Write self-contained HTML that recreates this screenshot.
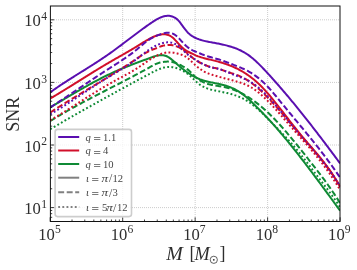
<!DOCTYPE html>
<html><head><meta charset="utf-8"><title>SNR</title><style>html,body{margin:0;padding:0;background:#fff;}body{width:357px;height:270px;overflow:hidden;position:relative;font-family:"Liberation Serif",serif;}</style></head><body>
<svg width="357" height="270" viewBox="0 0 357 270" style="position:absolute;left:0;top:0">
<rect x="0" y="0" width="357" height="270" fill="#fff"/>
<g stroke="#a4a4a4" stroke-width="0.75" stroke-dasharray="0.75 1.25" fill="none"><line x1="122.68" y1="6.0" x2="122.68" y2="221.5"/><line x1="195.15" y1="6.0" x2="195.15" y2="221.5"/><line x1="267.62" y1="6.0" x2="267.62" y2="221.5"/><line x1="50.2" y1="207.60" x2="340.1" y2="207.60"/><line x1="50.2" y1="145.00" x2="340.1" y2="145.00"/><line x1="50.2" y1="82.40" x2="340.1" y2="82.40"/><line x1="50.2" y1="19.80" x2="340.1" y2="19.80"/></g>
<defs><filter id="gf" x="-5%" y="-5%" width="110%" height="110%" color-interpolation-filters="sRGB"><feColorMatrix type="saturate" values="1"/></filter></defs>
<defs><clipPath id="c"><rect x="50.2" y="6.0" width="289.90000000000003" height="215.5"/></clipPath></defs>
<g fill="none" stroke-width="2.0" clip-path="url(#c)">
<path d="M50.2 92.36 L51.2 91.64 L52.2 90.93 L53.2 90.22 L54.2 89.52 L55.2 88.83 L56.2 88.14 L57.2 87.46 L58.2 86.78 L59.2 86.10 L60.2 85.43 L61.2 84.77 L62.2 84.10 L63.2 83.44 L64.2 82.79 L65.2 82.14 L66.2 81.49 L67.2 80.85 L68.2 80.20 L69.2 79.56 L70.2 78.93 L71.2 78.29 L72.2 77.66 L73.2 77.03 L74.2 76.40 L75.2 75.77 L76.2 75.14 L77.2 74.52 L78.2 73.89 L79.2 73.27 L80.2 72.65 L81.2 72.02 L82.2 71.40 L83.2 70.78 L84.2 70.15 L85.2 69.53 L86.2 68.90 L87.2 68.27 L88.2 67.65 L89.2 67.02 L90.2 66.39 L91.2 65.75 L92.2 65.12 L93.2 64.48 L94.2 63.84 L95.2 63.20 L96.2 62.56 L97.2 61.91 L98.2 61.26 L99.2 60.61 L100.2 59.95 L101.2 59.29 L102.2 58.62 L103.2 57.95 L104.2 57.28 L105.2 56.60 L106.2 55.92 L107.2 55.23 L108.2 54.54 L109.2 53.84 L110.2 53.13 L111.2 52.42 L112.2 51.71 L113.2 50.99 L114.2 50.26 L115.2 49.53 L116.2 48.80 L117.2 48.06 L118.2 47.32 L119.2 46.57 L120.2 45.83 L121.2 45.08 L122.2 44.33 L123.2 43.57 L124.2 42.82 L125.2 42.06 L126.2 41.30 L127.2 40.54 L128.2 39.78 L129.2 39.02 L130.2 38.26 L131.2 37.50 L132.2 36.74 L133.2 35.99 L134.2 35.23 L135.2 34.48 L136.2 33.73 L137.2 32.98 L138.2 32.23 L139.2 31.48 L140.2 30.74 L141.2 30.01 L142.2 29.27 L143.2 28.54 L144.2 27.82 L145.2 27.10 L146.2 26.38 L147.2 25.67 L148.2 24.97 L149.2 24.27 L150.2 23.58 L151.2 22.90 L152.2 22.22 L153.2 21.56 L154.2 20.92 L155.2 20.30 L156.2 19.71 L157.2 19.14 L158.2 18.61 L159.2 18.11 L160.2 17.65 L161.2 17.23 L162.2 16.86 L163.2 16.54 L164.2 16.27 L165.2 16.06 L166.2 15.91 L167.2 15.82 L168.2 15.80 L169.2 15.86 L170.2 15.99 L171.2 16.19 L172.2 16.49 L173.2 16.86 L174.2 17.33 L175.2 17.89 L176.2 18.56 L177.2 19.36 L178.2 20.32 L179.2 21.46 L180.2 22.73 L181.2 24.07 L182.2 25.44 L183.2 26.81 L184.2 28.16 L185.2 29.47 L186.2 30.72 L187.2 31.88 L188.2 32.92 L189.2 33.86 L190.2 34.70 L191.2 35.45 L192.2 36.11 L193.2 36.72 L194.2 37.26 L195.2 37.76 L196.2 38.22 L197.2 38.65 L198.2 39.04 L199.2 39.41 L200.2 39.75 L201.2 40.07 L202.2 40.36 L203.2 40.63 L204.2 40.88 L205.2 41.11 L206.2 41.34 L207.2 41.54 L208.2 41.74 L209.2 41.93 L210.2 42.12 L211.2 42.30 L212.2 42.48 L213.2 42.66 L214.2 42.84 L215.2 43.02 L216.2 43.21 L217.2 43.40 L218.2 43.60 L219.2 43.80 L220.2 44.01 L221.2 44.22 L222.2 44.44 L223.2 44.66 L224.2 44.89 L225.2 45.13 L226.2 45.38 L227.2 45.64 L228.2 45.91 L229.2 46.19 L230.2 46.48 L231.2 46.78 L232.2 47.10 L233.2 47.43 L234.2 47.78 L235.2 48.15 L236.2 48.54 L237.2 48.94 L238.2 49.37 L239.2 49.81 L240.2 50.28 L241.2 50.77 L242.2 51.28 L243.2 51.83 L244.2 52.39 L245.2 52.99 L246.2 53.61 L247.2 54.26 L248.2 54.94 L249.2 55.65 L250.2 56.39 L251.2 57.17 L252.2 57.98 L253.2 58.82 L254.2 59.68 L255.2 60.57 L256.2 61.49 L257.2 62.43 L258.2 63.39 L259.2 64.38 L260.2 65.38 L261.2 66.39 L262.2 67.42 L263.2 68.47 L264.2 69.53 L265.2 70.60 L266.2 71.67 L267.2 72.75 L268.2 73.84 L269.2 74.94 L270.2 76.04 L271.2 77.14 L272.2 78.25 L273.2 79.37 L274.2 80.49 L275.2 81.62 L276.2 82.75 L277.2 83.89 L278.2 85.03 L279.2 86.17 L280.2 87.33 L281.2 88.48 L282.2 89.64 L283.2 90.81 L284.2 91.98 L285.2 93.16 L286.2 94.34 L287.2 95.52 L288.2 96.71 L289.2 97.91 L290.2 99.11 L291.2 100.31 L292.2 101.52 L293.2 102.73 L294.2 103.94 L295.2 105.16 L296.2 106.39 L297.2 107.62 L298.2 108.85 L299.2 110.09 L300.2 111.33 L301.2 112.57 L302.2 113.82 L303.2 115.07 L304.2 116.33 L305.2 117.59 L306.2 118.85 L307.2 120.12 L308.2 121.39 L309.2 122.66 L310.2 123.94 L311.2 125.22 L312.2 126.50 L313.2 127.79 L314.2 129.08 L315.2 130.37 L316.2 131.67 L317.2 132.96 L318.2 134.27 L319.2 135.57 L320.2 136.88 L321.2 138.19 L322.2 139.51 L323.2 140.82 L324.2 142.14 L325.2 143.46 L326.2 144.79 L327.2 146.12 L328.2 147.44 L329.2 148.78 L330.2 150.11 L331.2 151.45 L332.2 152.79 L333.2 154.13 L334.2 155.47 L335.2 156.82 L336.2 158.16 L337.2 159.51 L338.2 160.87 L340.1 163.44" stroke="#5a0fb0" />
<path d="M50.2 98.56 L51.2 97.97 L52.2 97.38 L53.2 96.79 L54.2 96.19 L55.2 95.59 L56.2 94.99 L57.2 94.39 L58.2 93.78 L59.2 93.18 L60.2 92.57 L61.2 91.96 L62.2 91.35 L63.2 90.74 L64.2 90.12 L65.2 89.51 L66.2 88.89 L67.2 88.27 L68.2 87.65 L69.2 87.03 L70.2 86.41 L71.2 85.79 L72.2 85.17 L73.2 84.54 L74.2 83.92 L75.2 83.30 L76.2 82.67 L77.2 82.05 L78.2 81.42 L79.2 80.80 L80.2 80.17 L81.2 79.55 L82.2 78.92 L83.2 78.30 L84.2 77.67 L85.2 77.05 L86.2 76.42 L87.2 75.80 L88.2 75.18 L89.2 74.56 L90.2 73.94 L91.2 73.32 L92.2 72.70 L93.2 72.08 L94.2 71.47 L95.2 70.85 L96.2 70.24 L97.2 69.63 L98.2 69.02 L99.2 68.41 L100.2 67.81 L101.2 67.20 L102.2 66.60 L103.2 66.00 L104.2 65.40 L105.2 64.81 L106.2 64.21 L107.2 63.62 L108.2 63.03 L109.2 62.45 L110.2 61.87 L111.2 61.29 L112.2 60.71 L113.2 60.13 L114.2 59.56 L115.2 58.99 L116.2 58.42 L117.2 57.85 L118.2 57.28 L119.2 56.71 L120.2 56.14 L121.2 55.57 L122.2 55.00 L123.2 54.43 L124.2 53.86 L125.2 53.29 L126.2 52.71 L127.2 52.13 L128.2 51.55 L129.2 50.97 L130.2 50.39 L131.2 49.80 L132.2 49.21 L133.2 48.61 L134.2 48.01 L135.2 47.41 L136.2 46.80 L137.2 46.18 L138.2 45.56 L139.2 44.94 L140.2 44.32 L141.2 43.70 L142.2 43.08 L143.2 42.47 L144.2 41.86 L145.2 41.26 L146.2 40.67 L147.2 40.09 L148.2 39.52 L149.2 38.97 L150.2 38.44 L151.2 37.92 L152.2 37.43 L153.2 36.96 L154.2 36.52 L155.2 36.12 L156.2 35.74 L157.2 35.40 L158.2 35.10 L159.2 34.85 L160.2 34.64 L161.2 34.48 L162.2 34.37 L163.2 34.31 L164.2 34.31 L165.2 34.37 L166.2 34.51 L167.2 34.72 L168.2 35.01 L169.2 35.40 L170.2 35.89 L171.2 36.49 L172.2 37.22 L173.2 38.07 L174.2 39.02 L175.2 40.06 L176.2 41.15 L177.2 42.27 L178.2 43.39 L179.2 44.48 L180.2 45.54 L181.2 46.55 L182.2 47.50 L183.2 48.39 L184.2 49.20 L185.2 49.93 L186.2 50.59 L187.2 51.18 L188.2 51.73 L189.2 52.24 L190.2 52.74 L191.2 53.23 L192.2 53.73 L193.2 54.21 L194.2 54.68 L195.2 55.13 L196.2 55.56 L197.2 55.95 L198.2 56.33 L199.2 56.68 L200.2 57.01 L201.2 57.33 L202.2 57.63 L203.2 57.91 L204.2 58.18 L205.2 58.44 L206.2 58.70 L207.2 58.94 L208.2 59.18 L209.2 59.42 L210.2 59.65 L211.2 59.88 L212.2 60.12 L213.2 60.36 L214.2 60.61 L215.2 60.86 L216.2 61.11 L217.2 61.38 L218.2 61.65 L219.2 61.93 L220.2 62.22 L221.2 62.51 L222.2 62.81 L223.2 63.13 L224.2 63.45 L225.2 63.78 L226.2 64.13 L227.2 64.48 L228.2 64.84 L229.2 65.22 L230.2 65.61 L231.2 66.01 L232.2 66.43 L233.2 66.86 L234.2 67.30 L235.2 67.76 L236.2 68.23 L237.2 68.72 L238.2 69.22 L239.2 69.74 L240.2 70.28 L241.2 70.83 L242.2 71.41 L243.2 72.00 L244.2 72.61 L245.2 73.24 L246.2 73.88 L247.2 74.55 L248.2 75.24 L249.2 75.95 L250.2 76.68 L251.2 77.44 L252.2 78.21 L253.2 79.01 L254.2 79.84 L255.2 80.68 L256.2 81.55 L257.2 82.45 L258.2 83.37 L259.2 84.31 L260.2 85.29 L261.2 86.28 L262.2 87.30 L263.2 88.34 L264.2 89.41 L265.2 90.49 L266.2 91.60 L267.2 92.72 L268.2 93.86 L269.2 95.02 L270.2 96.19 L271.2 97.38 L272.2 98.58 L273.2 99.80 L274.2 101.02 L275.2 102.26 L276.2 103.51 L277.2 104.77 L278.2 106.04 L279.2 107.31 L280.2 108.60 L281.2 109.88 L282.2 111.17 L283.2 112.47 L284.2 113.77 L285.2 115.07 L286.2 116.37 L287.2 117.67 L288.2 118.97 L289.2 120.27 L290.2 121.57 L291.2 122.86 L292.2 124.15 L293.2 125.43 L294.2 126.70 L295.2 127.97 L296.2 129.23 L297.2 130.48 L298.2 131.72 L299.2 132.95 L300.2 134.17 L301.2 135.37 L302.2 136.56 L303.2 137.75 L304.2 138.92 L305.2 140.09 L306.2 141.25 L307.2 142.41 L308.2 143.56 L309.2 144.71 L310.2 145.86 L311.2 147.01 L312.2 148.17 L313.2 149.33 L314.2 150.49 L315.2 151.66 L316.2 152.84 L317.2 154.02 L318.2 155.22 L319.2 156.42 L320.2 157.65 L321.2 158.88 L322.2 160.13 L323.2 161.40 L324.2 162.68 L325.2 163.99 L326.2 165.32 L327.2 166.67 L328.2 168.04 L329.2 169.44 L330.2 170.86 L331.2 172.32 L332.2 173.80 L333.2 175.31 L334.2 176.86 L335.2 178.43 L336.2 180.04 L337.2 181.69 L338.2 183.38 L340.1 186.69" stroke="#d10f2a" />
<path d="M50.2 107.30 L51.2 106.72 L52.2 106.14 L53.2 105.55 L54.2 104.97 L55.2 104.38 L56.2 103.80 L57.2 103.21 L58.2 102.62 L59.2 102.04 L60.2 101.45 L61.2 100.86 L62.2 100.27 L63.2 99.68 L64.2 99.09 L65.2 98.50 L66.2 97.91 L67.2 97.32 L68.2 96.73 L69.2 96.14 L70.2 95.56 L71.2 94.97 L72.2 94.38 L73.2 93.80 L74.2 93.21 L75.2 92.63 L76.2 92.05 L77.2 91.47 L78.2 90.89 L79.2 90.31 L80.2 89.74 L81.2 89.16 L82.2 88.59 L83.2 88.02 L84.2 87.46 L85.2 86.89 L86.2 86.33 L87.2 85.77 L88.2 85.21 L89.2 84.65 L90.2 84.10 L91.2 83.55 L92.2 83.00 L93.2 82.46 L94.2 81.92 L95.2 81.38 L96.2 80.85 L97.2 80.32 L98.2 79.80 L99.2 79.27 L100.2 78.75 L101.2 78.24 L102.2 77.73 L103.2 77.22 L104.2 76.72 L105.2 76.22 L106.2 75.73 L107.2 75.24 L108.2 74.76 L109.2 74.28 L110.2 73.81 L111.2 73.34 L112.2 72.88 L113.2 72.42 L114.2 71.97 L115.2 71.52 L116.2 71.08 L117.2 70.64 L118.2 70.21 L119.2 69.78 L120.2 69.36 L121.2 68.94 L122.2 68.52 L123.2 68.11 L124.2 67.70 L125.2 67.30 L126.2 66.90 L127.2 66.50 L128.2 66.10 L129.2 65.71 L130.2 65.32 L131.2 64.94 L132.2 64.55 L133.2 64.17 L134.2 63.79 L135.2 63.41 L136.2 63.03 L137.2 62.66 L138.2 62.29 L139.2 61.91 L140.2 61.54 L141.2 61.17 L142.2 60.80 L143.2 60.43 L144.2 60.06 L145.2 59.70 L146.2 59.33 L147.2 58.96 L148.2 58.59 L149.2 58.22 L150.2 57.85 L151.2 57.48 L152.2 57.12 L153.2 56.77 L154.2 56.44 L155.2 56.13 L156.2 55.85 L157.2 55.61 L158.2 55.41 L159.2 55.26 L160.2 55.16 L161.2 55.12 L162.2 55.15 L163.2 55.25 L164.2 55.43 L165.2 55.69 L166.2 56.04 L167.2 56.49 L168.2 57.03 L169.2 57.65 L170.2 58.35 L171.2 59.10 L172.2 59.91 L173.2 60.76 L174.2 61.64 L175.2 62.54 L176.2 63.44 L177.2 64.34 L178.2 65.23 L179.2 66.09 L180.2 66.93 L181.2 67.75 L182.2 68.55 L183.2 69.32 L184.2 70.08 L185.2 70.81 L186.2 71.53 L187.2 72.23 L188.2 72.91 L189.2 73.57 L190.2 74.21 L191.2 74.84 L192.2 75.45 L193.2 76.04 L194.2 76.60 L195.2 77.13 L196.2 77.63 L197.2 78.10 L198.2 78.55 L199.2 78.96 L200.2 79.35 L201.2 79.71 L202.2 80.06 L203.2 80.38 L204.2 80.68 L205.2 80.96 L206.2 81.23 L207.2 81.48 L208.2 81.72 L209.2 81.95 L210.2 82.17 L211.2 82.38 L212.2 82.58 L213.2 82.78 L214.2 82.98 L215.2 83.18 L216.2 83.37 L217.2 83.58 L218.2 83.78 L219.2 83.99 L220.2 84.21 L221.2 84.44 L222.2 84.68 L223.2 84.94 L224.2 85.20 L225.2 85.49 L226.2 85.80 L227.2 86.12 L228.2 86.46 L229.2 86.83 L230.2 87.22 L231.2 87.63 L232.2 88.06 L233.2 88.52 L234.2 89.00 L235.2 89.51 L236.2 90.05 L237.2 90.62 L238.2 91.21 L239.2 91.84 L240.2 92.49 L241.2 93.18 L242.2 93.90 L243.2 94.65 L244.2 95.43 L245.2 96.24 L246.2 97.07 L247.2 97.93 L248.2 98.82 L249.2 99.72 L250.2 100.64 L251.2 101.58 L252.2 102.53 L253.2 103.50 L254.2 104.47 L255.2 105.46 L256.2 106.45 L257.2 107.45 L258.2 108.45 L259.2 109.45 L260.2 110.46 L261.2 111.48 L262.2 112.50 L263.2 113.53 L264.2 114.57 L265.2 115.62 L266.2 116.67 L267.2 117.74 L268.2 118.81 L269.2 119.89 L270.2 120.98 L271.2 122.08 L272.2 123.19 L273.2 124.30 L274.2 125.43 L275.2 126.56 L276.2 127.70 L277.2 128.84 L278.2 130.00 L279.2 131.16 L280.2 132.33 L281.2 133.50 L282.2 134.68 L283.2 135.87 L284.2 137.07 L285.2 138.27 L286.2 139.48 L287.2 140.70 L288.2 141.92 L289.2 143.15 L290.2 144.38 L291.2 145.62 L292.2 146.87 L293.2 148.12 L294.2 149.37 L295.2 150.63 L296.2 151.90 L297.2 153.17 L298.2 154.45 L299.2 155.73 L300.2 157.02 L301.2 158.31 L302.2 159.60 L303.2 160.90 L304.2 162.21 L305.2 163.51 L306.2 164.83 L307.2 166.14 L308.2 167.46 L309.2 168.78 L310.2 170.11 L311.2 171.44 L312.2 172.77 L313.2 174.10 L314.2 175.44 L315.2 176.78 L316.2 178.13 L317.2 179.47 L318.2 180.82 L319.2 182.17 L320.2 183.52 L321.2 184.88 L322.2 186.23 L323.2 187.59 L324.2 188.95 L325.2 190.31 L326.2 191.67 L327.2 193.04 L328.2 194.40 L329.2 195.76 L330.2 197.13 L331.2 198.50 L332.2 199.87 L333.2 201.23 L334.2 202.60 L335.2 203.97 L336.2 205.34 L337.2 206.70 L338.2 208.07 L340.1 210.67" stroke="#0f8a35" />
<path d="M50.2 107.46 L51.2 106.82 L52.2 106.17 L53.2 105.52 L54.2 104.87 L55.2 104.22 L56.2 103.57 L57.2 102.91 L58.2 102.26 L59.2 101.60 L60.2 100.94 L61.2 100.28 L62.2 99.62 L63.2 98.96 L64.2 98.30 L65.2 97.63 L66.2 96.97 L67.2 96.30 L68.2 95.64 L69.2 94.97 L70.2 94.30 L71.2 93.63 L72.2 92.97 L73.2 92.30 L74.2 91.63 L75.2 90.96 L76.2 90.29 L77.2 89.62 L78.2 88.95 L79.2 88.28 L80.2 87.61 L81.2 86.94 L82.2 86.27 L83.2 85.60 L84.2 84.93 L85.2 84.27 L86.2 83.60 L87.2 82.93 L88.2 82.26 L89.2 81.60 L90.2 80.93 L91.2 80.26 L92.2 79.60 L93.2 78.94 L94.2 78.27 L95.2 77.61 L96.2 76.95 L97.2 76.29 L98.2 75.63 L99.2 74.98 L100.2 74.32 L101.2 73.66 L102.2 73.01 L103.2 72.36 L104.2 71.71 L105.2 71.06 L106.2 70.41 L107.2 69.77 L108.2 69.12 L109.2 68.48 L110.2 67.84 L111.2 67.20 L112.2 66.57 L113.2 65.93 L114.2 65.29 L115.2 64.66 L116.2 64.02 L117.2 63.38 L118.2 62.73 L119.2 62.09 L120.2 61.44 L121.2 60.78 L122.2 60.12 L123.2 59.45 L124.2 58.78 L125.2 58.10 L126.2 57.41 L127.2 56.72 L128.2 56.01 L129.2 55.30 L130.2 54.57 L131.2 53.84 L132.2 53.09 L133.2 52.33 L134.2 51.55 L135.2 50.77 L136.2 49.97 L137.2 49.15 L138.2 48.32 L139.2 47.48 L140.2 46.64 L141.2 45.80 L142.2 44.96 L143.2 44.13 L144.2 43.31 L145.2 42.52 L146.2 41.74 L147.2 40.99 L148.2 40.27 L149.2 39.58 L150.2 38.94 L151.2 38.34 L152.2 37.77 L153.2 37.25 L154.2 36.76 L155.2 36.30 L156.2 35.87 L157.2 35.46 L158.2 35.08 L159.2 34.72 L160.2 34.38 L161.2 34.06 L162.2 33.75 L163.2 33.46 L164.2 33.20 L165.2 32.98 L166.2 32.82 L167.2 32.71 L168.2 32.67 L169.2 32.71 L170.2 32.83 L171.2 33.05 L172.2 33.38 L173.2 33.82 L174.2 34.37 L175.2 35.03 L176.2 35.79 L177.2 36.65 L178.2 37.59 L179.2 38.61 L180.2 39.69 L181.2 40.80 L182.2 41.91 L183.2 43.00 L184.2 44.05 L185.2 45.05 L186.2 45.98 L187.2 46.85 L188.2 47.65 L189.2 48.38 L190.2 49.04 L191.2 49.62 L192.2 50.14 L193.2 50.61 L194.2 51.04 L195.2 51.47 L196.2 51.89 L197.2 52.31 L198.2 52.73 L199.2 53.14 L200.2 53.55 L201.2 53.95 L202.2 54.34 L203.2 54.72 L204.2 55.10 L205.2 55.46 L206.2 55.81 L207.2 56.14 L208.2 56.46 L209.2 56.76 L210.2 57.05 L211.2 57.33 L212.2 57.61 L213.2 57.88 L214.2 58.15 L215.2 58.42 L216.2 58.70 L217.2 58.98 L218.2 59.28 L219.2 59.58 L220.2 59.89 L221.2 60.22 L222.2 60.56 L223.2 60.90 L224.2 61.26 L225.2 61.62 L226.2 61.99 L227.2 62.36 L228.2 62.74 L229.2 63.13 L230.2 63.51 L231.2 63.90 L232.2 64.29 L233.2 64.67 L234.2 65.06 L235.2 65.45 L236.2 65.84 L237.2 66.23 L238.2 66.63 L239.2 67.03 L240.2 67.44 L241.2 67.86 L242.2 68.30 L243.2 68.74 L244.2 69.20 L245.2 69.68 L246.2 70.17 L247.2 70.68 L248.2 71.21 L249.2 71.76 L250.2 72.34 L251.2 72.94 L252.2 73.57 L253.2 74.22 L254.2 74.90 L255.2 75.60 L256.2 76.33 L257.2 77.09 L258.2 77.87 L259.2 78.68 L260.2 79.52 L261.2 80.38 L262.2 81.28 L263.2 82.20 L264.2 83.14 L265.2 84.12 L266.2 85.12 L267.2 86.15 L268.2 87.21 L269.2 88.30 L270.2 89.41 L271.2 90.54 L272.2 91.69 L273.2 92.86 L274.2 94.04 L275.2 95.24 L276.2 96.45 L277.2 97.66 L278.2 98.88 L279.2 100.11 L280.2 101.34 L281.2 102.57 L282.2 103.80 L283.2 105.02 L284.2 106.24 L285.2 107.46 L286.2 108.68 L287.2 109.89 L288.2 111.10 L289.2 112.31 L290.2 113.51 L291.2 114.72 L292.2 115.92 L293.2 117.13 L294.2 118.33 L295.2 119.53 L296.2 120.73 L297.2 121.93 L298.2 123.14 L299.2 124.34 L300.2 125.55 L301.2 126.75 L302.2 127.96 L303.2 129.17 L304.2 130.38 L305.2 131.59 L306.2 132.81 L307.2 134.03 L308.2 135.25 L309.2 136.48 L310.2 137.71 L311.2 138.94 L312.2 140.18 L313.2 141.42 L314.2 142.67 L315.2 143.92 L316.2 145.18 L317.2 146.45 L318.2 147.72 L319.2 148.99 L320.2 150.28 L321.2 151.57 L322.2 152.86 L323.2 154.17 L324.2 155.48 L325.2 156.80 L326.2 158.13 L327.2 159.46 L328.2 160.81 L329.2 162.16 L330.2 163.53 L331.2 164.90 L332.2 166.29 L333.2 167.68 L334.2 169.08 L335.2 170.50 L336.2 171.92 L337.2 173.36 L338.2 174.81 L340.1 177.59" stroke="#5a0fb0" stroke-dasharray="5.95 2.55"/>
<path d="M50.2 112.52 L51.2 111.87 L52.2 111.22 L53.2 110.57 L54.2 109.93 L55.2 109.29 L56.2 108.65 L57.2 108.02 L58.2 107.38 L59.2 106.75 L60.2 106.12 L61.2 105.49 L62.2 104.87 L63.2 104.25 L64.2 103.62 L65.2 103.00 L66.2 102.39 L67.2 101.77 L68.2 101.15 L69.2 100.54 L70.2 99.93 L71.2 99.32 L72.2 98.71 L73.2 98.10 L74.2 97.49 L75.2 96.88 L76.2 96.28 L77.2 95.67 L78.2 95.07 L79.2 94.46 L80.2 93.86 L81.2 93.26 L82.2 92.66 L83.2 92.06 L84.2 91.45 L85.2 90.85 L86.2 90.25 L87.2 89.65 L88.2 89.05 L89.2 88.45 L90.2 87.85 L91.2 87.25 L92.2 86.65 L93.2 86.05 L94.2 85.45 L95.2 84.85 L96.2 84.25 L97.2 83.65 L98.2 83.05 L99.2 82.44 L100.2 81.84 L101.2 81.24 L102.2 80.63 L103.2 80.02 L104.2 79.42 L105.2 78.81 L106.2 78.20 L107.2 77.59 L108.2 76.98 L109.2 76.36 L110.2 75.75 L111.2 75.13 L112.2 74.51 L113.2 73.90 L114.2 73.27 L115.2 72.65 L116.2 72.03 L117.2 71.40 L118.2 70.77 L119.2 70.14 L120.2 69.51 L121.2 68.87 L122.2 68.24 L123.2 67.60 L124.2 66.96 L125.2 66.31 L126.2 65.67 L127.2 65.02 L128.2 64.37 L129.2 63.71 L130.2 63.05 L131.2 62.39 L132.2 61.73 L133.2 61.07 L134.2 60.40 L135.2 59.72 L136.2 59.05 L137.2 58.37 L138.2 57.69 L139.2 57.01 L140.2 56.34 L141.2 55.67 L142.2 55.01 L143.2 54.37 L144.2 53.75 L145.2 53.14 L146.2 52.57 L147.2 52.01 L148.2 51.49 L149.2 51.01 L150.2 50.56 L151.2 50.14 L152.2 49.76 L153.2 49.38 L154.2 49.01 L155.2 48.64 L156.2 48.24 L157.2 47.82 L158.2 47.41 L159.2 46.99 L160.2 46.60 L161.2 46.24 L162.2 45.92 L163.2 45.64 L164.2 45.40 L165.2 45.21 L166.2 45.07 L167.2 44.97 L168.2 44.91 L169.2 44.91 L170.2 44.95 L171.2 45.03 L172.2 45.17 L173.2 45.35 L174.2 45.58 L175.2 45.86 L176.2 46.18 L177.2 46.56 L178.2 46.99 L179.2 47.47 L180.2 48.00 L181.2 48.58 L182.2 49.22 L183.2 49.91 L184.2 50.65 L185.2 51.44 L186.2 52.26 L187.2 53.11 L188.2 53.99 L189.2 54.87 L190.2 55.75 L191.2 56.62 L192.2 57.47 L193.2 58.29 L194.2 59.08 L195.2 59.81 L196.2 60.49 L197.2 61.12 L198.2 61.70 L199.2 62.25 L200.2 62.76 L201.2 63.25 L202.2 63.72 L203.2 64.18 L204.2 64.62 L205.2 65.05 L206.2 65.45 L207.2 65.83 L208.2 66.20 L209.2 66.54 L210.2 66.86 L211.2 67.15 L212.2 67.42 L213.2 67.66 L214.2 67.88 L215.2 68.08 L216.2 68.28 L217.2 68.50 L218.2 68.74 L219.2 69.02 L220.2 69.33 L221.2 69.68 L222.2 70.04 L223.2 70.41 L224.2 70.78 L225.2 71.15 L226.2 71.50 L227.2 71.84 L228.2 72.17 L229.2 72.49 L230.2 72.81 L231.2 73.13 L232.2 73.44 L233.2 73.77 L234.2 74.09 L235.2 74.43 L236.2 74.78 L237.2 75.14 L238.2 75.52 L239.2 75.92 L240.2 76.34 L241.2 76.79 L242.2 77.27 L243.2 77.77 L244.2 78.30 L245.2 78.86 L246.2 79.44 L247.2 80.06 L248.2 80.69 L249.2 81.36 L250.2 82.05 L251.2 82.76 L252.2 83.49 L253.2 84.25 L254.2 85.03 L255.2 85.84 L256.2 86.66 L257.2 87.51 L258.2 88.37 L259.2 89.25 L260.2 90.16 L261.2 91.08 L262.2 92.02 L263.2 92.97 L264.2 93.94 L265.2 94.93 L266.2 95.93 L267.2 96.95 L268.2 97.98 L269.2 99.03 L270.2 100.08 L271.2 101.15 L272.2 102.24 L273.2 103.33 L274.2 104.43 L275.2 105.54 L276.2 106.67 L277.2 107.80 L278.2 108.94 L279.2 110.08 L280.2 111.24 L281.2 112.40 L282.2 113.56 L283.2 114.73 L284.2 115.91 L285.2 117.09 L286.2 118.27 L287.2 119.45 L288.2 120.64 L289.2 121.83 L290.2 123.02 L291.2 124.21 L292.2 125.40 L293.2 126.59 L294.2 127.77 L295.2 128.96 L296.2 130.14 L297.2 131.32 L298.2 132.50 L299.2 133.67 L300.2 134.84 L301.2 136.00 L302.2 137.16 L303.2 138.31 L304.2 139.46 L305.2 140.61 L306.2 141.76 L307.2 142.91 L308.2 144.06 L309.2 145.21 L310.2 146.36 L311.2 147.52 L312.2 148.68 L313.2 149.85 L314.2 151.03 L315.2 152.21 L316.2 153.40 L317.2 154.59 L318.2 155.80 L319.2 157.02 L320.2 158.25 L321.2 159.50 L322.2 160.75 L323.2 162.02 L324.2 163.31 L325.2 164.61 L326.2 165.93 L327.2 167.27 L328.2 168.62 L329.2 170.00 L330.2 171.39 L331.2 172.81 L332.2 174.25 L333.2 175.71 L334.2 177.20 L335.2 178.71 L336.2 180.25 L337.2 181.81 L338.2 183.40 L340.1 186.51" stroke="#d10f2a" stroke-dasharray="5.95 2.55"/>
<path d="M50.2 121.08 L51.2 120.46 L52.2 119.85 L53.2 119.24 L54.2 118.63 L55.2 118.02 L56.2 117.42 L57.2 116.82 L58.2 116.22 L59.2 115.63 L60.2 115.04 L61.2 114.46 L62.2 113.87 L63.2 113.29 L64.2 112.71 L65.2 112.14 L66.2 111.57 L67.2 111.00 L68.2 110.43 L69.2 109.87 L70.2 109.31 L71.2 108.75 L72.2 108.19 L73.2 107.63 L74.2 107.08 L75.2 106.53 L76.2 105.98 L77.2 105.44 L78.2 104.89 L79.2 104.35 L80.2 103.81 L81.2 103.27 L82.2 102.74 L83.2 102.20 L84.2 101.67 L85.2 101.14 L86.2 100.61 L87.2 100.08 L88.2 99.55 L89.2 99.03 L90.2 98.50 L91.2 97.98 L92.2 97.45 L93.2 96.93 L94.2 96.41 L95.2 95.89 L96.2 95.38 L97.2 94.86 L98.2 94.34 L99.2 93.82 L100.2 93.31 L101.2 92.79 L102.2 92.28 L103.2 91.77 L104.2 91.25 L105.2 90.74 L106.2 90.23 L107.2 89.71 L108.2 89.20 L109.2 88.69 L110.2 88.18 L111.2 87.66 L112.2 87.15 L113.2 86.64 L114.2 86.13 L115.2 85.61 L116.2 85.10 L117.2 84.59 L118.2 84.07 L119.2 83.56 L120.2 83.04 L121.2 82.52 L122.2 82.01 L123.2 81.49 L124.2 80.97 L125.2 80.45 L126.2 79.93 L127.2 79.41 L128.2 78.89 L129.2 78.36 L130.2 77.84 L131.2 77.31 L132.2 76.79 L133.2 76.26 L134.2 75.73 L135.2 75.20 L136.2 74.66 L137.2 74.13 L138.2 73.59 L139.2 73.05 L140.2 72.51 L141.2 71.97 L142.2 71.43 L143.2 70.88 L144.2 70.33 L145.2 69.78 L146.2 69.23 L147.2 68.67 L148.2 68.10 L149.2 67.53 L150.2 66.96 L151.2 66.38 L152.2 65.80 L153.2 65.25 L154.2 64.72 L155.2 64.24 L156.2 63.81 L157.2 63.43 L158.2 63.10 L159.2 62.81 L160.2 62.56 L161.2 62.34 L162.2 62.14 L163.2 61.97 L164.2 61.83 L165.2 61.72 L166.2 61.65 L167.2 61.61 L168.2 61.60 L169.2 61.64 L170.2 61.72 L171.2 61.84 L172.2 62.02 L173.2 62.24 L174.2 62.51 L175.2 62.82 L176.2 63.18 L177.2 63.57 L178.2 64.00 L179.2 64.47 L180.2 64.96 L181.2 65.48 L182.2 66.03 L183.2 66.59 L184.2 67.18 L185.2 67.79 L186.2 68.44 L187.2 69.13 L188.2 69.89 L189.2 70.72 L190.2 71.64 L191.2 72.63 L192.2 73.66 L193.2 74.69 L194.2 75.72 L195.2 76.69 L196.2 77.60 L197.2 78.43 L198.2 79.20 L199.2 79.91 L200.2 80.56 L201.2 81.15 L202.2 81.69 L203.2 82.18 L204.2 82.63 L205.2 83.03 L206.2 83.39 L207.2 83.72 L208.2 84.02 L209.2 84.29 L210.2 84.53 L211.2 84.76 L212.2 84.96 L213.2 85.15 L214.2 85.33 L215.2 85.50 L216.2 85.66 L217.2 85.82 L218.2 85.98 L219.2 86.14 L220.2 86.30 L221.2 86.47 L222.2 86.64 L223.2 86.83 L224.2 87.03 L225.2 87.25 L226.2 87.48 L227.2 87.74 L228.2 88.01 L229.2 88.29 L230.2 88.60 L231.2 88.92 L232.2 89.27 L233.2 89.62 L234.2 90.00 L235.2 90.39 L236.2 90.81 L237.2 91.23 L238.2 91.68 L239.2 92.14 L240.2 92.62 L241.2 93.12 L242.2 93.64 L243.2 94.17 L244.2 94.72 L245.2 95.28 L246.2 95.87 L247.2 96.46 L248.2 97.08 L249.2 97.71 L250.2 98.36 L251.2 99.03 L252.2 99.71 L253.2 100.41 L254.2 101.13 L255.2 101.86 L256.2 102.61 L257.2 103.37 L258.2 104.15 L259.2 104.95 L260.2 105.76 L261.2 106.59 L262.2 107.44 L263.2 108.30 L264.2 109.17 L265.2 110.07 L266.2 110.98 L267.2 111.90 L268.2 112.84 L269.2 113.79 L270.2 114.76 L271.2 115.74 L272.2 116.74 L273.2 117.75 L274.2 118.77 L275.2 119.81 L276.2 120.86 L277.2 121.92 L278.2 122.99 L279.2 124.07 L280.2 125.17 L281.2 126.27 L282.2 127.39 L283.2 128.52 L284.2 129.65 L285.2 130.80 L286.2 131.95 L287.2 133.12 L288.2 134.29 L289.2 135.47 L290.2 136.66 L291.2 137.85 L292.2 139.06 L293.2 140.27 L294.2 141.48 L295.2 142.70 L296.2 143.93 L297.2 145.16 L298.2 146.40 L299.2 147.65 L300.2 148.89 L301.2 150.15 L302.2 151.40 L303.2 152.66 L304.2 153.92 L305.2 155.19 L306.2 156.46 L307.2 157.73 L308.2 159.00 L309.2 160.27 L310.2 161.55 L311.2 162.82 L312.2 164.10 L313.2 165.38 L314.2 166.66 L315.2 167.94 L316.2 169.22 L317.2 170.51 L318.2 171.80 L319.2 173.10 L320.2 174.41 L321.2 175.72 L322.2 177.04 L323.2 178.38 L324.2 179.72 L325.2 181.07 L326.2 182.44 L327.2 183.82 L328.2 185.22 L329.2 186.63 L330.2 188.05 L331.2 189.49 L332.2 190.96 L333.2 192.44 L334.2 193.93 L335.2 195.45 L336.2 197.00 L337.2 198.56 L338.2 200.15 L340.1 203.23" stroke="#0f8a35" stroke-dasharray="5.95 2.55"/>
<path d="M50.2 114.27 L51.2 113.69 L52.2 113.11 L53.2 112.53 L54.2 111.94 L55.2 111.34 L56.2 110.74 L57.2 110.13 L58.2 109.52 L59.2 108.91 L60.2 108.29 L61.2 107.67 L62.2 107.04 L63.2 106.41 L64.2 105.77 L65.2 105.13 L66.2 104.49 L67.2 103.85 L68.2 103.20 L69.2 102.55 L70.2 101.90 L71.2 101.24 L72.2 100.59 L73.2 99.93 L74.2 99.27 L75.2 98.61 L76.2 97.94 L77.2 97.28 L78.2 96.62 L79.2 95.95 L80.2 95.29 L81.2 94.62 L82.2 93.96 L83.2 93.29 L84.2 92.63 L85.2 91.96 L86.2 91.30 L87.2 90.63 L88.2 89.97 L89.2 89.31 L90.2 88.65 L91.2 88.00 L92.2 87.34 L93.2 86.69 L94.2 86.04 L95.2 85.39 L96.2 84.74 L97.2 84.10 L98.2 83.46 L99.2 82.82 L100.2 82.19 L101.2 81.56 L102.2 80.93 L103.2 80.31 L104.2 79.69 L105.2 79.08 L106.2 78.47 L107.2 77.87 L108.2 77.26 L109.2 76.66 L110.2 76.06 L111.2 75.46 L112.2 74.87 L113.2 74.27 L114.2 73.67 L115.2 73.07 L116.2 72.47 L117.2 71.87 L118.2 71.26 L119.2 70.66 L120.2 70.05 L121.2 69.43 L122.2 68.81 L123.2 68.19 L124.2 67.56 L125.2 66.92 L126.2 66.28 L127.2 65.63 L128.2 64.97 L129.2 64.31 L130.2 63.64 L131.2 62.95 L132.2 62.26 L133.2 61.56 L134.2 60.84 L135.2 60.12 L136.2 59.38 L137.2 58.64 L138.2 57.88 L139.2 57.11 L140.2 56.33 L141.2 55.56 L142.2 54.78 L143.2 54.01 L144.2 53.24 L145.2 52.48 L146.2 51.74 L147.2 51.01 L148.2 50.29 L149.2 49.60 L150.2 48.93 L151.2 48.29 L152.2 47.67 L153.2 47.08 L154.2 46.52 L155.2 45.99 L156.2 45.49 L157.2 45.02 L158.2 44.58 L159.2 44.18 L160.2 43.81 L161.2 43.47 L162.2 43.18 L163.2 42.92 L164.2 42.70 L165.2 42.53 L166.2 42.41 L167.2 42.34 L168.2 42.32 L169.2 42.36 L170.2 42.46 L171.2 42.63 L172.2 42.86 L173.2 43.16 L174.2 43.54 L175.2 44.00 L176.2 44.53 L177.2 45.16 L178.2 45.88 L179.2 46.69 L180.2 47.57 L181.2 48.50 L182.2 49.46 L183.2 50.43 L184.2 51.39 L185.2 52.33 L186.2 53.24 L187.2 54.11 L188.2 54.92 L189.2 55.68 L190.2 56.38 L191.2 57.04 L192.2 57.67 L193.2 58.29 L194.2 58.90 L195.2 59.51 L196.2 60.11 L197.2 60.71 L198.2 61.30 L199.2 61.90 L200.2 62.49 L201.2 63.07 L202.2 63.64 L203.2 64.19 L204.2 64.71 L205.2 65.21 L206.2 65.67 L207.2 66.09 L208.2 66.47 L209.2 66.79 L210.2 67.07 L211.2 67.31 L212.2 67.53 L213.2 67.72 L214.2 67.91 L215.2 68.09 L216.2 68.28 L217.2 68.49 L218.2 68.72 L219.2 68.99 L220.2 69.28 L221.2 69.61 L222.2 69.95 L223.2 70.32 L224.2 70.70 L225.2 71.10 L226.2 71.52 L227.2 71.94 L228.2 72.36 L229.2 72.79 L230.2 73.22 L231.2 73.64 L232.2 74.06 L233.2 74.47 L234.2 74.87 L235.2 75.25 L236.2 75.63 L237.2 76.01 L238.2 76.38 L239.2 76.75 L240.2 77.13 L241.2 77.51 L242.2 77.90 L243.2 78.30 L244.2 78.72 L245.2 79.16 L246.2 79.62 L247.2 80.09 L248.2 80.60 L249.2 81.13 L250.2 81.70 L251.2 82.30 L252.2 82.94 L253.2 83.60 L254.2 84.30 L255.2 85.03 L256.2 85.79 L257.2 86.58 L258.2 87.39 L259.2 88.24 L260.2 89.11 L261.2 90.00 L262.2 90.93 L263.2 91.87 L264.2 92.84 L265.2 93.83 L266.2 94.84 L267.2 95.87 L268.2 96.92 L269.2 97.98 L270.2 99.07 L271.2 100.17 L272.2 101.29 L273.2 102.42 L274.2 103.57 L275.2 104.72 L276.2 105.90 L277.2 107.08 L278.2 108.27 L279.2 109.47 L280.2 110.68 L281.2 111.90 L282.2 113.12 L283.2 114.35 L284.2 115.58 L285.2 116.82 L286.2 118.06 L287.2 119.31 L288.2 120.55 L289.2 121.80 L290.2 123.04 L291.2 124.28 L292.2 125.52 L293.2 126.76 L294.2 127.99 L295.2 129.22 L296.2 130.44 L297.2 131.65 L298.2 132.86 L299.2 134.06 L300.2 135.24 L301.2 136.42 L302.2 137.59 L303.2 138.75 L304.2 139.90 L305.2 141.05 L306.2 142.20 L307.2 143.34 L308.2 144.48 L309.2 145.62 L310.2 146.75 L311.2 147.89 L312.2 149.04 L313.2 150.18 L314.2 151.33 L315.2 152.49 L316.2 153.66 L317.2 154.83 L318.2 156.01 L319.2 157.21 L320.2 158.41 L321.2 159.63 L322.2 160.86 L323.2 162.11 L324.2 163.37 L325.2 164.65 L326.2 165.96 L327.2 167.28 L328.2 168.62 L329.2 169.98 L330.2 171.37 L331.2 172.78 L332.2 174.22 L333.2 175.68 L334.2 177.18 L335.2 178.70 L336.2 180.25 L337.2 181.84 L338.2 183.45 L340.1 186.62" stroke="#5a0fb0" stroke-dasharray="1.85 2.3"/>
<path d="M50.2 120.33 L51.2 119.74 L52.2 119.16 L53.2 118.57 L54.2 117.98 L55.2 117.38 L56.2 116.78 L57.2 116.18 L58.2 115.57 L59.2 114.97 L60.2 114.35 L61.2 113.74 L62.2 113.12 L63.2 112.51 L64.2 111.89 L65.2 111.26 L66.2 110.64 L67.2 110.01 L68.2 109.39 L69.2 108.76 L70.2 108.13 L71.2 107.50 L72.2 106.86 L73.2 106.23 L74.2 105.59 L75.2 104.96 L76.2 104.32 L77.2 103.69 L78.2 103.05 L79.2 102.42 L80.2 101.78 L81.2 101.14 L82.2 100.51 L83.2 99.87 L84.2 99.24 L85.2 98.60 L86.2 97.97 L87.2 97.34 L88.2 96.71 L89.2 96.08 L90.2 95.45 L91.2 94.82 L92.2 94.20 L93.2 93.57 L94.2 92.95 L95.2 92.33 L96.2 91.71 L97.2 91.10 L98.2 90.49 L99.2 89.88 L100.2 89.27 L101.2 88.67 L102.2 88.06 L103.2 87.47 L104.2 86.87 L105.2 86.28 L106.2 85.69 L107.2 85.11 L108.2 84.53 L109.2 83.95 L110.2 83.38 L111.2 82.81 L112.2 82.25 L113.2 81.69 L114.2 81.13 L115.2 80.58 L116.2 80.04 L117.2 79.50 L118.2 78.96 L119.2 78.43 L120.2 77.90 L121.2 77.36 L122.2 76.83 L123.2 76.30 L124.2 75.76 L125.2 75.23 L126.2 74.68 L127.2 74.14 L128.2 73.59 L129.2 73.03 L130.2 72.46 L131.2 71.89 L132.2 71.30 L133.2 70.71 L134.2 70.10 L135.2 69.49 L136.2 68.86 L137.2 68.21 L138.2 67.56 L139.2 66.89 L140.2 66.21 L141.2 65.53 L142.2 64.84 L143.2 64.15 L144.2 63.46 L145.2 62.77 L146.2 62.09 L147.2 61.41 L148.2 60.75 L149.2 60.09 L150.2 59.45 L151.2 58.82 L152.2 58.21 L153.2 57.62 L154.2 57.05 L155.2 56.51 L156.2 55.99 L157.2 55.50 L158.2 55.03 L159.2 54.60 L160.2 54.20 L161.2 53.84 L162.2 53.51 L163.2 53.22 L164.2 52.97 L165.2 52.76 L166.2 52.60 L167.2 52.48 L168.2 52.41 L169.2 52.39 L170.2 52.40 L171.2 52.45 L172.2 52.54 L173.2 52.66 L174.2 52.82 L175.2 53.00 L176.2 53.20 L177.2 53.43 L178.2 53.68 L179.2 53.95 L180.2 54.25 L181.2 54.58 L182.2 54.96 L183.2 55.39 L184.2 55.87 L185.2 56.43 L186.2 57.05 L187.2 57.76 L188.2 58.54 L189.2 59.38 L190.2 60.26 L191.2 61.19 L192.2 62.13 L193.2 63.08 L194.2 64.02 L195.2 64.94 L196.2 65.82 L197.2 66.67 L198.2 67.49 L199.2 68.26 L200.2 69.00 L201.2 69.70 L202.2 70.35 L203.2 70.97 L204.2 71.55 L205.2 72.08 L206.2 72.57 L207.2 73.02 L208.2 73.43 L209.2 73.81 L210.2 74.16 L211.2 74.49 L212.2 74.81 L213.2 75.11 L214.2 75.40 L215.2 75.69 L216.2 75.97 L217.2 76.25 L218.2 76.53 L219.2 76.81 L220.2 77.09 L221.2 77.36 L222.2 77.63 L223.2 77.90 L224.2 78.17 L225.2 78.44 L226.2 78.71 L227.2 78.98 L228.2 79.24 L229.2 79.51 L230.2 79.77 L231.2 80.04 L232.2 80.31 L233.2 80.58 L234.2 80.84 L235.2 81.11 L236.2 81.39 L237.2 81.67 L238.2 81.96 L239.2 82.26 L240.2 82.57 L241.2 82.90 L242.2 83.24 L243.2 83.60 L244.2 83.98 L245.2 84.39 L246.2 84.81 L247.2 85.27 L248.2 85.75 L249.2 86.26 L250.2 86.80 L251.2 87.37 L252.2 87.98 L253.2 88.62 L254.2 89.29 L255.2 89.99 L256.2 90.72 L257.2 91.48 L258.2 92.26 L259.2 93.07 L260.2 93.91 L261.2 94.76 L262.2 95.65 L263.2 96.55 L264.2 97.48 L265.2 98.42 L266.2 99.39 L267.2 100.37 L268.2 101.37 L269.2 102.39 L270.2 103.42 L271.2 104.47 L272.2 105.53 L273.2 106.60 L274.2 107.69 L275.2 108.78 L276.2 109.89 L277.2 111.00 L278.2 112.13 L279.2 113.25 L280.2 114.39 L281.2 115.53 L282.2 116.67 L283.2 117.82 L284.2 118.97 L285.2 120.12 L286.2 121.27 L287.2 122.42 L288.2 123.57 L289.2 124.71 L290.2 125.85 L291.2 126.99 L292.2 128.12 L293.2 129.25 L294.2 130.38 L295.2 131.51 L296.2 132.63 L297.2 133.75 L298.2 134.88 L299.2 136.00 L300.2 137.13 L301.2 138.25 L302.2 139.38 L303.2 140.52 L304.2 141.65 L305.2 142.79 L306.2 143.94 L307.2 145.09 L308.2 146.24 L309.2 147.41 L310.2 148.58 L311.2 149.76 L312.2 150.94 L313.2 152.14 L314.2 153.34 L315.2 154.56 L316.2 155.78 L317.2 157.02 L318.2 158.27 L319.2 159.53 L320.2 160.81 L321.2 162.10 L322.2 163.40 L323.2 164.72 L324.2 166.05 L325.2 167.41 L326.2 168.77 L327.2 170.16 L328.2 171.56 L329.2 172.98 L330.2 174.43 L331.2 175.89 L332.2 177.37 L333.2 178.87 L334.2 180.40 L335.2 181.94 L336.2 183.51 L337.2 185.11 L338.2 186.73 L340.1 189.87" stroke="#d10f2a" stroke-dasharray="1.85 2.3"/>
<path d="M50.2 129.18 L51.2 128.60 L52.2 128.01 L53.2 127.43 L54.2 126.85 L55.2 126.27 L56.2 125.69 L57.2 125.11 L58.2 124.53 L59.2 123.95 L60.2 123.37 L61.2 122.79 L62.2 122.21 L63.2 121.64 L64.2 121.06 L65.2 120.48 L66.2 119.91 L67.2 119.34 L68.2 118.76 L69.2 118.19 L70.2 117.62 L71.2 117.04 L72.2 116.47 L73.2 115.90 L74.2 115.33 L75.2 114.76 L76.2 114.19 L77.2 113.63 L78.2 113.06 L79.2 112.49 L80.2 111.92 L81.2 111.36 L82.2 110.79 L83.2 110.23 L84.2 109.66 L85.2 109.10 L86.2 108.53 L87.2 107.97 L88.2 107.41 L89.2 106.85 L90.2 106.29 L91.2 105.73 L92.2 105.17 L93.2 104.61 L94.2 104.05 L95.2 103.49 L96.2 102.93 L97.2 102.37 L98.2 101.82 L99.2 101.26 L100.2 100.71 L101.2 100.15 L102.2 99.60 L103.2 99.04 L104.2 98.49 L105.2 97.93 L106.2 97.38 L107.2 96.83 L108.2 96.28 L109.2 95.73 L110.2 95.18 L111.2 94.63 L112.2 94.08 L113.2 93.53 L114.2 92.98 L115.2 92.43 L116.2 91.88 L117.2 91.34 L118.2 90.79 L119.2 90.24 L120.2 89.70 L121.2 89.15 L122.2 88.61 L123.2 88.06 L124.2 87.52 L125.2 86.98 L126.2 86.43 L127.2 85.89 L128.2 85.35 L129.2 84.81 L130.2 84.27 L131.2 83.73 L132.2 83.19 L133.2 82.65 L134.2 82.11 L135.2 81.57 L136.2 81.03 L137.2 80.49 L138.2 79.96 L139.2 79.42 L140.2 78.88 L141.2 78.35 L142.2 77.81 L143.2 77.28 L144.2 76.74 L145.2 76.21 L146.2 75.67 L147.2 75.14 L148.2 74.61 L149.2 74.07 L150.2 73.54 L151.2 73.01 L152.2 72.48 L153.2 71.96 L154.2 71.45 L155.2 70.95 L156.2 70.47 L157.2 70.01 L158.2 69.57 L159.2 69.15 L160.2 68.76 L161.2 68.40 L162.2 68.07 L163.2 67.78 L164.2 67.53 L165.2 67.32 L166.2 67.15 L167.2 67.03 L168.2 66.96 L169.2 66.94 L170.2 66.97 L171.2 67.04 L172.2 67.15 L173.2 67.31 L174.2 67.50 L175.2 67.74 L176.2 68.02 L177.2 68.33 L178.2 68.68 L179.2 69.06 L180.2 69.48 L181.2 69.94 L182.2 70.44 L183.2 70.97 L184.2 71.55 L185.2 72.17 L186.2 72.83 L187.2 73.54 L188.2 74.29 L189.2 75.09 L190.2 75.93 L191.2 76.81 L192.2 77.72 L193.2 78.67 L194.2 79.65 L195.2 80.65 L196.2 81.64 L197.2 82.58 L198.2 83.43 L199.2 84.20 L200.2 84.90 L201.2 85.53 L202.2 86.11 L203.2 86.63 L204.2 87.12 L205.2 87.57 L206.2 87.99 L207.2 88.39 L208.2 88.75 L209.2 89.08 L210.2 89.38 L211.2 89.66 L212.2 89.91 L213.2 90.15 L214.2 90.37 L215.2 90.58 L216.2 90.79 L217.2 90.99 L218.2 91.18 L219.2 91.38 L220.2 91.58 L221.2 91.78 L222.2 91.98 L223.2 92.19 L224.2 92.40 L225.2 92.61 L226.2 92.84 L227.2 93.07 L228.2 93.31 L229.2 93.56 L230.2 93.82 L231.2 94.09 L232.2 94.38 L233.2 94.68 L234.2 94.99 L235.2 95.33 L236.2 95.67 L237.2 96.04 L238.2 96.43 L239.2 96.83 L240.2 97.26 L241.2 97.71 L242.2 98.18 L243.2 98.68 L244.2 99.20 L245.2 99.75 L246.2 100.33 L247.2 100.94 L248.2 101.57 L249.2 102.24 L250.2 102.93 L251.2 103.66 L252.2 104.41 L253.2 105.18 L254.2 105.98 L255.2 106.81 L256.2 107.66 L257.2 108.52 L258.2 109.41 L259.2 110.32 L260.2 111.24 L261.2 112.18 L262.2 113.13 L263.2 114.09 L264.2 115.07 L265.2 116.06 L266.2 117.06 L267.2 118.06 L268.2 119.07 L269.2 120.09 L270.2 121.11 L271.2 122.14 L272.2 123.16 L273.2 124.19 L274.2 125.22 L275.2 126.24 L276.2 127.27 L277.2 128.29 L278.2 129.32 L279.2 130.35 L280.2 131.38 L281.2 132.41 L282.2 133.45 L283.2 134.49 L284.2 135.55 L285.2 136.60 L286.2 137.67 L287.2 138.74 L288.2 139.82 L289.2 140.91 L290.2 142.02 L291.2 143.13 L292.2 144.25 L293.2 145.39 L294.2 146.55 L295.2 147.71 L296.2 148.89 L297.2 150.09 L298.2 151.30 L299.2 152.53 L300.2 153.77 L301.2 155.02 L302.2 156.28 L303.2 157.55 L304.2 158.83 L305.2 160.12 L306.2 161.42 L307.2 162.72 L308.2 164.03 L309.2 165.34 L310.2 166.66 L311.2 167.97 L312.2 169.29 L313.2 170.62 L314.2 171.94 L315.2 173.26 L316.2 174.57 L317.2 175.89 L318.2 177.20 L319.2 178.50 L320.2 179.81 L321.2 181.11 L322.2 182.41 L323.2 183.71 L324.2 185.02 L325.2 186.33 L326.2 187.64 L327.2 188.97 L328.2 190.30 L329.2 191.64 L330.2 192.99 L331.2 194.36 L332.2 195.74 L333.2 197.13 L334.2 198.54 L335.2 199.97 L336.2 201.43 L337.2 202.90 L338.2 204.39 L340.1 207.30" stroke="#0f8a35" stroke-dasharray="1.85 2.3"/>
</g>
<g stroke="#111" stroke-width="0.8" fill="none"><line x1="50.20" y1="221.5" x2="50.20" y2="217.3"/><line x1="72.02" y1="221.5" x2="72.02" y2="219.5"/><line x1="84.78" y1="221.5" x2="84.78" y2="219.5"/><line x1="93.83" y1="221.5" x2="93.83" y2="219.5"/><line x1="100.86" y1="221.5" x2="100.86" y2="219.5"/><line x1="106.60" y1="221.5" x2="106.60" y2="219.5"/><line x1="111.45" y1="221.5" x2="111.45" y2="219.5"/><line x1="115.65" y1="221.5" x2="115.65" y2="219.5"/><line x1="119.36" y1="221.5" x2="119.36" y2="219.5"/><line x1="122.68" y1="221.5" x2="122.68" y2="217.3"/><line x1="144.49" y1="221.5" x2="144.49" y2="219.5"/><line x1="157.25" y1="221.5" x2="157.25" y2="219.5"/><line x1="166.31" y1="221.5" x2="166.31" y2="219.5"/><line x1="173.33" y1="221.5" x2="173.33" y2="219.5"/><line x1="179.07" y1="221.5" x2="179.07" y2="219.5"/><line x1="183.92" y1="221.5" x2="183.92" y2="219.5"/><line x1="188.13" y1="221.5" x2="188.13" y2="219.5"/><line x1="191.83" y1="221.5" x2="191.83" y2="219.5"/><line x1="195.15" y1="221.5" x2="195.15" y2="217.3"/><line x1="216.97" y1="221.5" x2="216.97" y2="219.5"/><line x1="229.73" y1="221.5" x2="229.73" y2="219.5"/><line x1="238.78" y1="221.5" x2="238.78" y2="219.5"/><line x1="245.81" y1="221.5" x2="245.81" y2="219.5"/><line x1="251.55" y1="221.5" x2="251.55" y2="219.5"/><line x1="256.40" y1="221.5" x2="256.40" y2="219.5"/><line x1="260.60" y1="221.5" x2="260.60" y2="219.5"/><line x1="264.31" y1="221.5" x2="264.31" y2="219.5"/><line x1="267.62" y1="221.5" x2="267.62" y2="217.3"/><line x1="289.44" y1="221.5" x2="289.44" y2="219.5"/><line x1="302.20" y1="221.5" x2="302.20" y2="219.5"/><line x1="311.26" y1="221.5" x2="311.26" y2="219.5"/><line x1="318.28" y1="221.5" x2="318.28" y2="219.5"/><line x1="324.02" y1="221.5" x2="324.02" y2="219.5"/><line x1="328.87" y1="221.5" x2="328.87" y2="219.5"/><line x1="333.08" y1="221.5" x2="333.08" y2="219.5"/><line x1="336.78" y1="221.5" x2="336.78" y2="219.5"/><line x1="340.10" y1="221.5" x2="340.10" y2="217.3"/><line x1="50.2" y1="221.49" x2="52.2" y2="221.49"/><line x1="50.2" y1="217.30" x2="52.2" y2="217.30"/><line x1="50.2" y1="213.67" x2="52.2" y2="213.67"/><line x1="50.2" y1="210.46" x2="52.2" y2="210.46"/><line x1="50.2" y1="207.60" x2="54.2" y2="207.60"/><line x1="50.2" y1="188.76" x2="52.2" y2="188.76"/><line x1="50.2" y1="177.73" x2="52.2" y2="177.73"/><line x1="50.2" y1="169.91" x2="52.2" y2="169.91"/><line x1="50.2" y1="163.84" x2="52.2" y2="163.84"/><line x1="50.2" y1="158.89" x2="52.2" y2="158.89"/><line x1="50.2" y1="154.70" x2="52.2" y2="154.70"/><line x1="50.2" y1="151.07" x2="52.2" y2="151.07"/><line x1="50.2" y1="147.86" x2="52.2" y2="147.86"/><line x1="50.2" y1="145.00" x2="54.2" y2="145.00"/><line x1="50.2" y1="126.16" x2="52.2" y2="126.16"/><line x1="50.2" y1="115.13" x2="52.2" y2="115.13"/><line x1="50.2" y1="107.31" x2="52.2" y2="107.31"/><line x1="50.2" y1="101.24" x2="52.2" y2="101.24"/><line x1="50.2" y1="96.29" x2="52.2" y2="96.29"/><line x1="50.2" y1="92.10" x2="52.2" y2="92.10"/><line x1="50.2" y1="88.47" x2="52.2" y2="88.47"/><line x1="50.2" y1="85.26" x2="52.2" y2="85.26"/><line x1="50.2" y1="82.40" x2="54.2" y2="82.40"/><line x1="50.2" y1="63.56" x2="52.2" y2="63.56"/><line x1="50.2" y1="52.53" x2="52.2" y2="52.53"/><line x1="50.2" y1="44.71" x2="52.2" y2="44.71"/><line x1="50.2" y1="38.64" x2="52.2" y2="38.64"/><line x1="50.2" y1="33.69" x2="52.2" y2="33.69"/><line x1="50.2" y1="29.50" x2="52.2" y2="29.50"/><line x1="50.2" y1="25.87" x2="52.2" y2="25.87"/><line x1="50.2" y1="22.66" x2="52.2" y2="22.66"/><line x1="50.2" y1="19.80" x2="54.2" y2="19.80"/></g>
<rect x="50.4" y="6.0" width="289.6" height="215.5" fill="none" stroke="#111" stroke-width="1.0"/>
<rect x="55.1" y="129.4" width="76.4" height="87.19999999999999" rx="2.5" ry="2.5" fill="#fff" fill-opacity="0.8" stroke="#cdcdcd" stroke-width="1.6"/>
<line x1="58.2" y1="137.0" x2="79.2" y2="137.0" stroke="#5a0fb0" stroke-width="2.0" />
<line x1="58.2" y1="150.5" x2="79.2" y2="150.5" stroke="#d10f2a" stroke-width="2.0" />
<line x1="58.2" y1="164.0" x2="79.2" y2="164.0" stroke="#0f8a35" stroke-width="2.0" />
<line x1="58.2" y1="177.7" x2="79.2" y2="177.7" stroke="#808080" stroke-width="2.0" />
<line x1="58.2" y1="192.2" x2="79.2" y2="192.2" stroke="#808080" stroke-width="2.0" stroke-dasharray="5.95 2.55"/>
<line x1="58.2" y1="207.0" x2="79.2" y2="207.0" stroke="#808080" stroke-width="2.0" stroke-dasharray="1.85 2.3"/>
<g font-family="Liberation Serif, serif" font-size="10.6" fill="#444" filter="url(#gf)">
<text x="85.6" y="140.90" font-style="italic" >q</text>
<line x1="94.0" y1="137.50" x2="100.3" y2="137.50" stroke="#444" stroke-width="0.7"/><line x1="94.0" y1="139.50" x2="100.3" y2="139.50" stroke="#444" stroke-width="0.7"/>
<text x="103.0" y="140.90" >1.1</text>
<text x="85.6" y="154.40" font-style="italic" >q</text>
<line x1="94.0" y1="151.50" x2="100.3" y2="151.50" stroke="#444" stroke-width="0.7"/><line x1="94.0" y1="153.50" x2="100.3" y2="153.50" stroke="#444" stroke-width="0.7"/>
<text x="103.0" y="154.40" >4</text>
<text x="85.6" y="167.90" font-style="italic" >q</text>
<line x1="94.0" y1="164.50" x2="100.3" y2="164.50" stroke="#444" stroke-width="0.7"/><line x1="94.0" y1="166.50" x2="100.3" y2="166.50" stroke="#444" stroke-width="0.7"/>
<text x="103.0" y="167.90" >10</text>
<text x="85.9" y="181.60" font-style="italic" >ι</text>
<line x1="92.1" y1="178.50" x2="98.4" y2="178.50" stroke="#444" stroke-width="0.7"/><line x1="92.1" y1="180.50" x2="98.4" y2="180.50" stroke="#444" stroke-width="0.7"/>
<text x="101.6" y="181.60" font-style="italic" textLength="6.6" lengthAdjust="spacingAndGlyphs">π</text>
<text x="108.9" y="182.20" font-size="11.8">/</text>
<text x="112.4" y="181.60" >12</text>
<text x="85.9" y="196.10" font-style="italic" >ι</text>
<line x1="92.1" y1="192.50" x2="98.4" y2="192.50" stroke="#444" stroke-width="0.7"/><line x1="92.1" y1="194.50" x2="98.4" y2="194.50" stroke="#444" stroke-width="0.7"/>
<text x="101.6" y="196.10" font-style="italic" textLength="6.6" lengthAdjust="spacingAndGlyphs">π</text>
<text x="108.9" y="196.70" font-size="11.8">/</text>
<text x="112.4" y="196.10" >3</text>
<text x="85.9" y="210.90" font-style="italic" >ι</text>
<line x1="92.1" y1="207.50" x2="98.4" y2="207.50" stroke="#444" stroke-width="0.7"/><line x1="92.1" y1="209.50" x2="98.4" y2="209.50" stroke="#444" stroke-width="0.7"/>
<text x="101.9" y="210.90" >5</text>
<text x="106.2" y="210.90" font-style="italic" textLength="6.6" lengthAdjust="spacingAndGlyphs">π</text>
<text x="113.0" y="211.50" font-size="11.8">/</text>
<text x="116.9" y="210.90" >12</text>
</g>
<g font-family="Liberation Serif, serif" fill="#2e2e2e" filter="url(#gf)">
<text x="40.8" y="214.20" font-size="16.6" text-anchor="end">10</text><text x="41.2" y="207.80" font-size="11.6">1</text>
<text x="40.8" y="151.60" font-size="16.6" text-anchor="end">10</text><text x="41.2" y="145.20" font-size="11.6">2</text>
<text x="40.8" y="89.00" font-size="16.6" text-anchor="end">10</text><text x="41.2" y="82.60" font-size="11.6">3</text>
<text x="40.8" y="26.40" font-size="16.6" text-anchor="end">10</text><text x="41.2" y="20.00" font-size="11.6">4</text>
<text x="54.80" y="240.2" font-size="16.6" text-anchor="end">10</text><text x="54.90" y="233.2" font-size="11.6">5</text>
<text x="127.28" y="240.2" font-size="16.6" text-anchor="end">10</text><text x="127.38" y="233.2" font-size="11.6">6</text>
<text x="199.75" y="240.2" font-size="16.6" text-anchor="end">10</text><text x="199.85" y="233.2" font-size="11.6">7</text>
<text x="272.23" y="240.2" font-size="16.6" text-anchor="end">10</text><text x="272.32" y="233.2" font-size="11.6">8</text>
<text x="344.70" y="240.2" font-size="16.6" text-anchor="end">10</text><text x="344.80" y="233.2" font-size="11.6">9</text>
<text transform="translate(18.8 114.2) rotate(-90)" font-size="18" text-anchor="middle">SNR</text>
<text x="166.2" y="259.8" font-size="18" font-style="italic" textLength="16.6" lengthAdjust="spacingAndGlyphs">M</text>
<text x="189.4" y="259.3" font-size="18">[</text>
<text x="194.6" y="259.8" font-size="18" font-style="italic" textLength="15.2" lengthAdjust="spacingAndGlyphs">M</text>
<text x="219.4" y="259.3" font-size="18">]</text>
</g>
<circle cx="213.8" cy="259.8" r="3.6" fill="none" stroke="#2e2e2e" stroke-width="0.75"/><circle cx="213.8" cy="259.8" r="0.9" fill="#2e2e2e"/>
</svg>
</body></html>
